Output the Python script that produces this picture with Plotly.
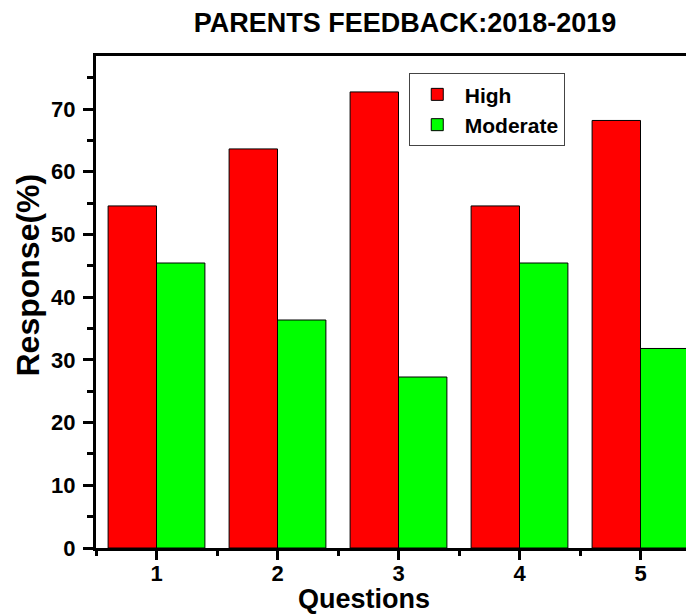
import plotly.graph_objects as go

# dados
questoes = [1, 2, 3, 4, 5]
alta = [54.55, 63.64, 72.73, 54.55, 68.18]
moderada = [45.45, 36.36, 27.27, 45.45, 31.82]

fonte = 'Arial, Liberation Sans, sans-serif'

# a página tem 8px de margem no body: a figura fica 8px menor
larg, alt = 686, 608

fig = go.Figure()
fig.add_trace(go.Bar(x=questoes, y=alta, name='<b>High</b>',
                     marker=dict(color='#FF0000', line=dict(color='black', width=1))))
fig.add_trace(go.Bar(x=questoes, y=moderada, name='<b>Moderate</b>',
                     marker=dict(color='#00FF00', line=dict(color='black', width=1))))

fig.update_layout(
    width=larg, height=alt,
    margin=dict(l=88, r=0, t=48, b=68, autoexpand=False),
    paper_bgcolor='white', plot_bgcolor='white',
    barmode='group', bargap=0.2, bargroupgap=0,
    font=dict(family=fonte, color='black'),
    title=dict(text='<b>PARENTS FEEDBACK:2018-2019</b>', x=397/larg, xanchor='center',
               y=1-15/alt, yanchor='middle', font=dict(size=27)),
    legend=dict(x=0.523, y=0.965, xanchor='left', yanchor='top',
                bordercolor='#444', borderwidth=1, bgcolor='white',
                font=dict(size=21), tracegroupgap=0, itemwidth=45),
    showlegend=True,
)

fig.update_xaxes(
    range=[0.5, 0.5 + 598/121], showgrid=False, zeroline=False, automargin=False,
    showline=True, linecolor='black', linewidth=3, mirror=True,
    tickmode='linear', tick0=1, dtick=1,
    ticks='outside', ticklen=9, tickwidth=3, tickcolor='black',
    minor=dict(ticks='outside', tick0=0.5, dtick=1, ticklen=5, tickwidth=3, tickcolor='black'),
    tickfont=dict(size=22), ticklabelstandoff=-5,
    tickprefix='<b>', ticksuffix='</b>',
)
fig.update_yaxes(
    range=[0, 78.46], showgrid=False, zeroline=False, automargin=False,
    showline=True, linecolor='black', linewidth=3, mirror=False,
    tickmode='linear', tick0=0, dtick=10,
    ticks='outside', ticklen=10, tickwidth=3, tickcolor='black',
    minor=dict(ticks='outside', dtick=5, ticklen=6, tickwidth=3, tickcolor='black'),
    tickfont=dict(size=22), ticklabelstandoff=3,
    tickprefix='<b>', ticksuffix='</b>',
)

# títulos dos eixos
fig.add_annotation(text='<b>Questions</b>', xref='paper', yref='paper',
                   x=(364-96)/598, y=-(615.5-548)/492, xanchor='center', yanchor='bottom',
                   showarrow=False, font=dict(size=27))
fig.add_annotation(text='<b>Response(%)</b>', xref='paper', yref='paper',
                   x=-(96-27.5)/598, y=(548-275)/492, xanchor='center', yanchor='middle',
                   textangle=-90, showarrow=False, font=dict(size=32))

fig.write_html('out.html')
